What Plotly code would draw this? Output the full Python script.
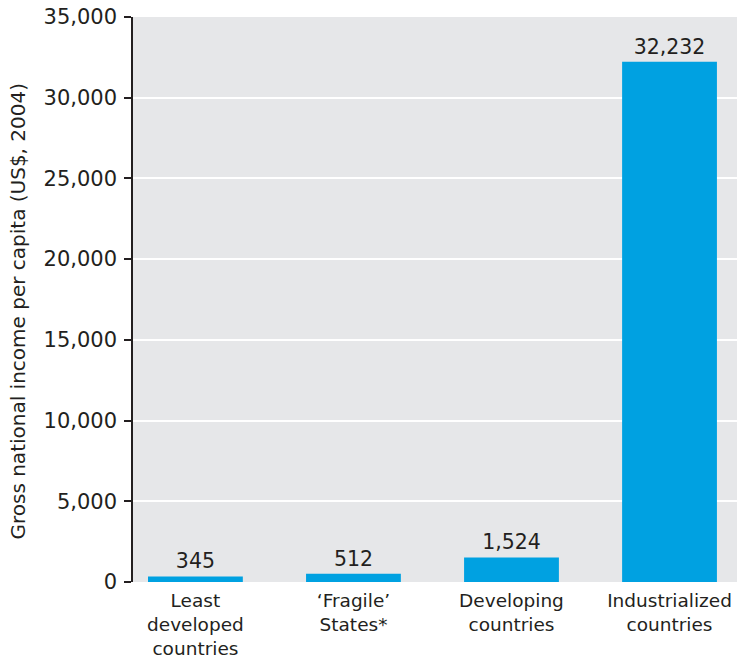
import plotly.graph_objects as go

categories = ["Least<br>developed<br>countries", "‘Fragile’<br>States*", "Developing<br>countries", "Industrialized<br>countries"]
values = [345, 512, 1524, 32232]
value_labels = ["345", "512", "1,524", "32,232"]
tick_vals = [0, 5000, 10000, 15000, 20000, 25000, 30000, 35000]
y_title = "Gross national income per capita (US$, 2004)"

FONT = "DejaVu Sans, Liberation Sans, sans-serif"
TXT = "#231f20"

fig = go.Figure(go.Bar(
    x=list(range(len(categories))),
    y=values,
    text=value_labels,
    textposition="outside",
    textfont=dict(family=FONT, size=20.5, color=TXT),
    marker=dict(color="#00a1e1", line=dict(width=0)),
    width=0.6,
    cliponaxis=False,
    hoverinfo="skip",
))

fig.update_layout(
    width=739, height=658,
    margin=dict(l=133, r=2, t=17, b=76, autoexpand=False),
    paper_bgcolor="white",
    plot_bgcolor="#e6e7e9",
    showlegend=False,
    font=dict(family=FONT, color=TXT),
    xaxis=dict(
        tickmode="array",
        tickvals=list(range(len(categories))),
        ticktext=categories,
        range=[-0.395, 3.427],
        showgrid=False, zeroline=False, showline=False,
        ticks="",
        ticklabelstandoff=5,
        tickfont=dict(family=FONT, size=18.5, color=TXT),
    ),
    yaxis=dict(
        range=[0, 35000],
        tickvals=tick_vals,
        tickformat=",d",
        showgrid=True, gridcolor="white", gridwidth=2,
        zeroline=False,
        showline=True, linecolor=TXT, linewidth=1.5,
        ticks="outside", ticklen=7, tickcolor=TXT, tickwidth=1.5,
        ticklabelstandoff=3,
        tickfont=dict(family=FONT, size=21, color=TXT),
    ),
    annotations=[dict(
        text=y_title, textangle=-90,
        xref="paper", yref="paper", x=-0.1904, y=0.4805,
        xanchor="center", yanchor="middle", showarrow=False,
        font=dict(family=FONT, size=20, color=TXT),
    )],
)

fig.write_html("out.html", config={"displayModeBar": False},
               post_script="document.body.style.margin='0px';document.body.style.overflow='hidden';")
